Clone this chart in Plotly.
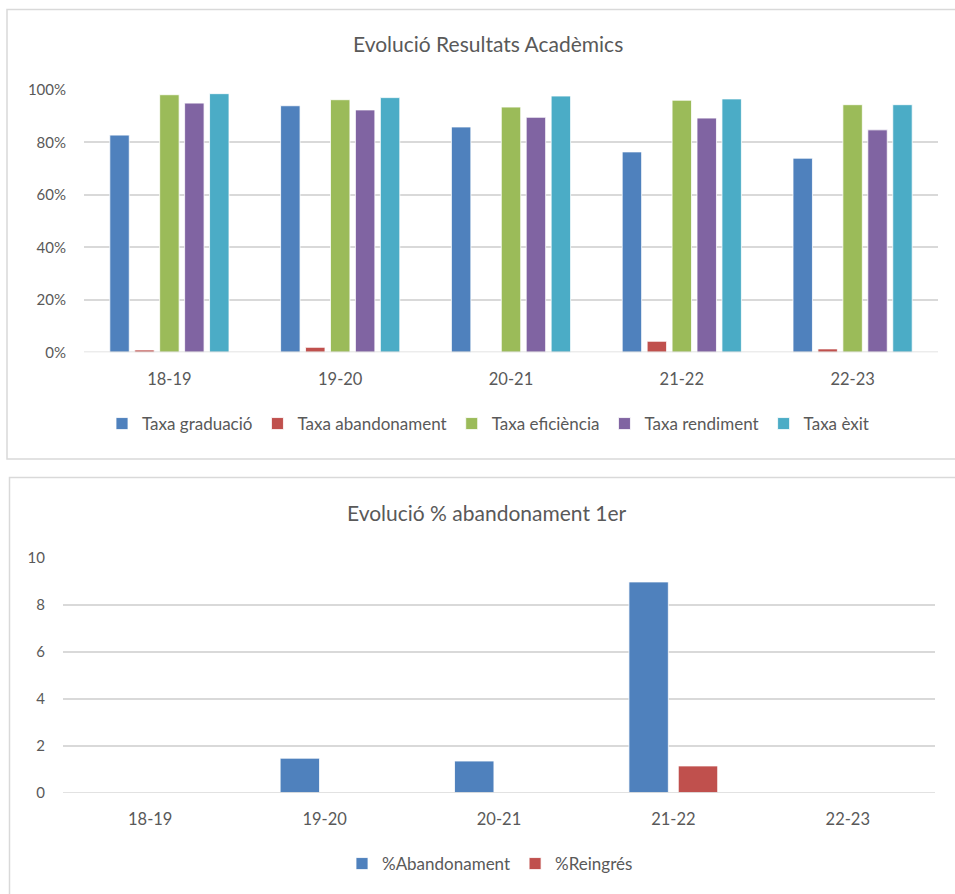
import plotly.graph_objects as go

W, H = 955, 894

# ---- data ----
years = ["18-19", "19-20", "20-21", "21-22", "22-23"]
taxa_graduacio = [82.8, 94.0, 85.9, 76.4, 74.0]
taxa_abandonament = [0.9, 1.9, 0.0, 4.2, 1.3]
taxa_eficiencia = [98.2, 96.3, 93.5, 96.1, 94.4]
taxa_rendiment = [95.0, 92.4, 89.6, 89.3, 84.8]
taxa_exit = [98.6, 97.1, 97.7, 96.6, 94.4]

pct_abandonament = [0, 1.47, 1.35, 8.98, 0]
pct_reingres = [0, 0, 0, 1.14, 0]

top_series = [
    ("Taxa graduació", taxa_graduacio, "#4f81bd"),
    ("Taxa abandonament", taxa_abandonament, "#c0504d"),
    ("Taxa eficiència", taxa_eficiencia, "#9bbb59"),
    ("Taxa rendiment", taxa_rendiment, "#8064a2"),
    ("Taxa èxit", taxa_exit, "#4bacc6"),
]
bottom_series = [
    ("%Abandonament", pct_abandonament, "#4f81bd", -0.255),
    ("%Reingrés", pct_reingres, "#c0504d", 0.028),
]
BOTTOM_BAR_WIDTH = 0.226

FONT = "Lato, Calibri, Carlito, sans-serif"
TXT = "#595959"
GRID = "#d9d9d9"

def px(x):
    return x / W

def py(y):
    return 1 - y / H

fig = go.Figure()
for name, vals, col in top_series:
    fig.add_trace(go.Bar(x=years, y=[v / 100 for v in vals], name=name,
                         marker=dict(color=col, line=dict(color="white", width=0.8)),
                         xaxis="x", yaxis="y", legend="legend"))
for name, vals, col, off in bottom_series:
    fig.add_trace(go.Bar(x=years, y=vals, name=name,
                         width=BOTTOM_BAR_WIDTH, offset=off,
                         marker=dict(color=col, line=dict(color="white", width=0.8)),
                         xaxis="x2", yaxis="y2", legend="legend2"))

ycommon = dict(showline=False, zeroline=False, ticks="", automargin=False,
               tickfont=dict(family=FONT, size=15, color=TXT), fixedrange=True)
xcommon = dict(showline=False, zeroline=False, ticks="", automargin=False,
               tickfont=dict(family=FONT, size=16.5, color=TXT), fixedrange=True)

fig.update_layout(
    template="none",
    width=W, height=H,
    margin=dict(l=0, r=0, t=0, b=0, pad=0),
    paper_bgcolor="white", plot_bgcolor="white",
    barmode="group",
    bargap=0.27, bargroupgap=0.22,
    font=dict(family=FONT, color=TXT),
    xaxis=dict(domain=[px(84), px(938)], anchor="y", showgrid=False,
               ticklabelstandoff=15, **xcommon),
    yaxis=dict(domain=[py(352.3), py(90)], anchor="x", range=[0, 1.0],
               tickvals=[0, 0.2, 0.4, 0.6, 0.8, 1.0], tickformat=".0%",
               showgrid=True, gridcolor=GRID, gridwidth=1.5,
               ticklabelstandoff=17, **ycommon),
    xaxis2=dict(domain=[px(63), px(935)], anchor="y2", showgrid=False,
                ticklabelstandoff=15, **xcommon),
    yaxis2=dict(domain=[py(792.7), py(558)], anchor="x2", range=[0, 10],
                tickvals=[0, 2, 4, 6, 8, 10],
                showgrid=True, gridcolor=GRID, gridwidth=1.5,
                ticklabelstandoff=17, **ycommon),
    legend=dict(orientation="h", x=px(488), xanchor="center", y=py(424), yanchor="middle",
                font=dict(family=FONT, size=17, color=TXT), itemclick=False,
                itemdoubleclick=False, traceorder="normal", bgcolor="rgba(0,0,0,0)"),
    legend2=dict(orientation="h", x=px(490), xanchor="center", y=py(864), yanchor="middle",
                 font=dict(family=FONT, size=17, color=TXT), itemclick=False,
                 itemdoubleclick=False, traceorder="normal", bgcolor="rgba(0,0,0,0)"),
    annotations=[
        dict(text="Evolució Resultats Acadèmics", x=px(488), y=py(44), xref="paper", yref="paper",
             showarrow=False, xanchor="center", yanchor="middle",
             font=dict(family=FONT, size=21, color=TXT)),
        dict(text="Evolució % abandonament 1er", x=px(487), y=py(512), xref="paper", yref="paper",
             showarrow=False, xanchor="center", yanchor="middle",
             font=dict(family=FONT, size=21, color=TXT)),
    ],
    shapes=[
        dict(type="line", xref="x domain", yref="y", x0=0, x1=1, y0=0, y1=0,
             line=dict(color=GRID, width=1.5)),
        dict(type="line", xref="x2 domain", yref="y2", x0=0, x1=1, y0=0, y1=0,
             line=dict(color=GRID, width=1.5)),
        dict(type="rect", xref="paper", yref="paper", x0=px(7), x1=px(975), y0=py(459), y1=py(9.5),
             line=dict(color=GRID, width=1.5), layer="below"),
        dict(type="rect", xref="paper", yref="paper", x0=px(9.5), x1=px(975), y0=py(920), y1=py(477.5),
             line=dict(color=GRID, width=1.5), layer="below"),
    ],
)

fig.write_html("out.html", config={"displayModeBar": False, "staticPlot": False},
               post_script="document.body.style.margin='0';document.body.style.overflow='hidden';")
